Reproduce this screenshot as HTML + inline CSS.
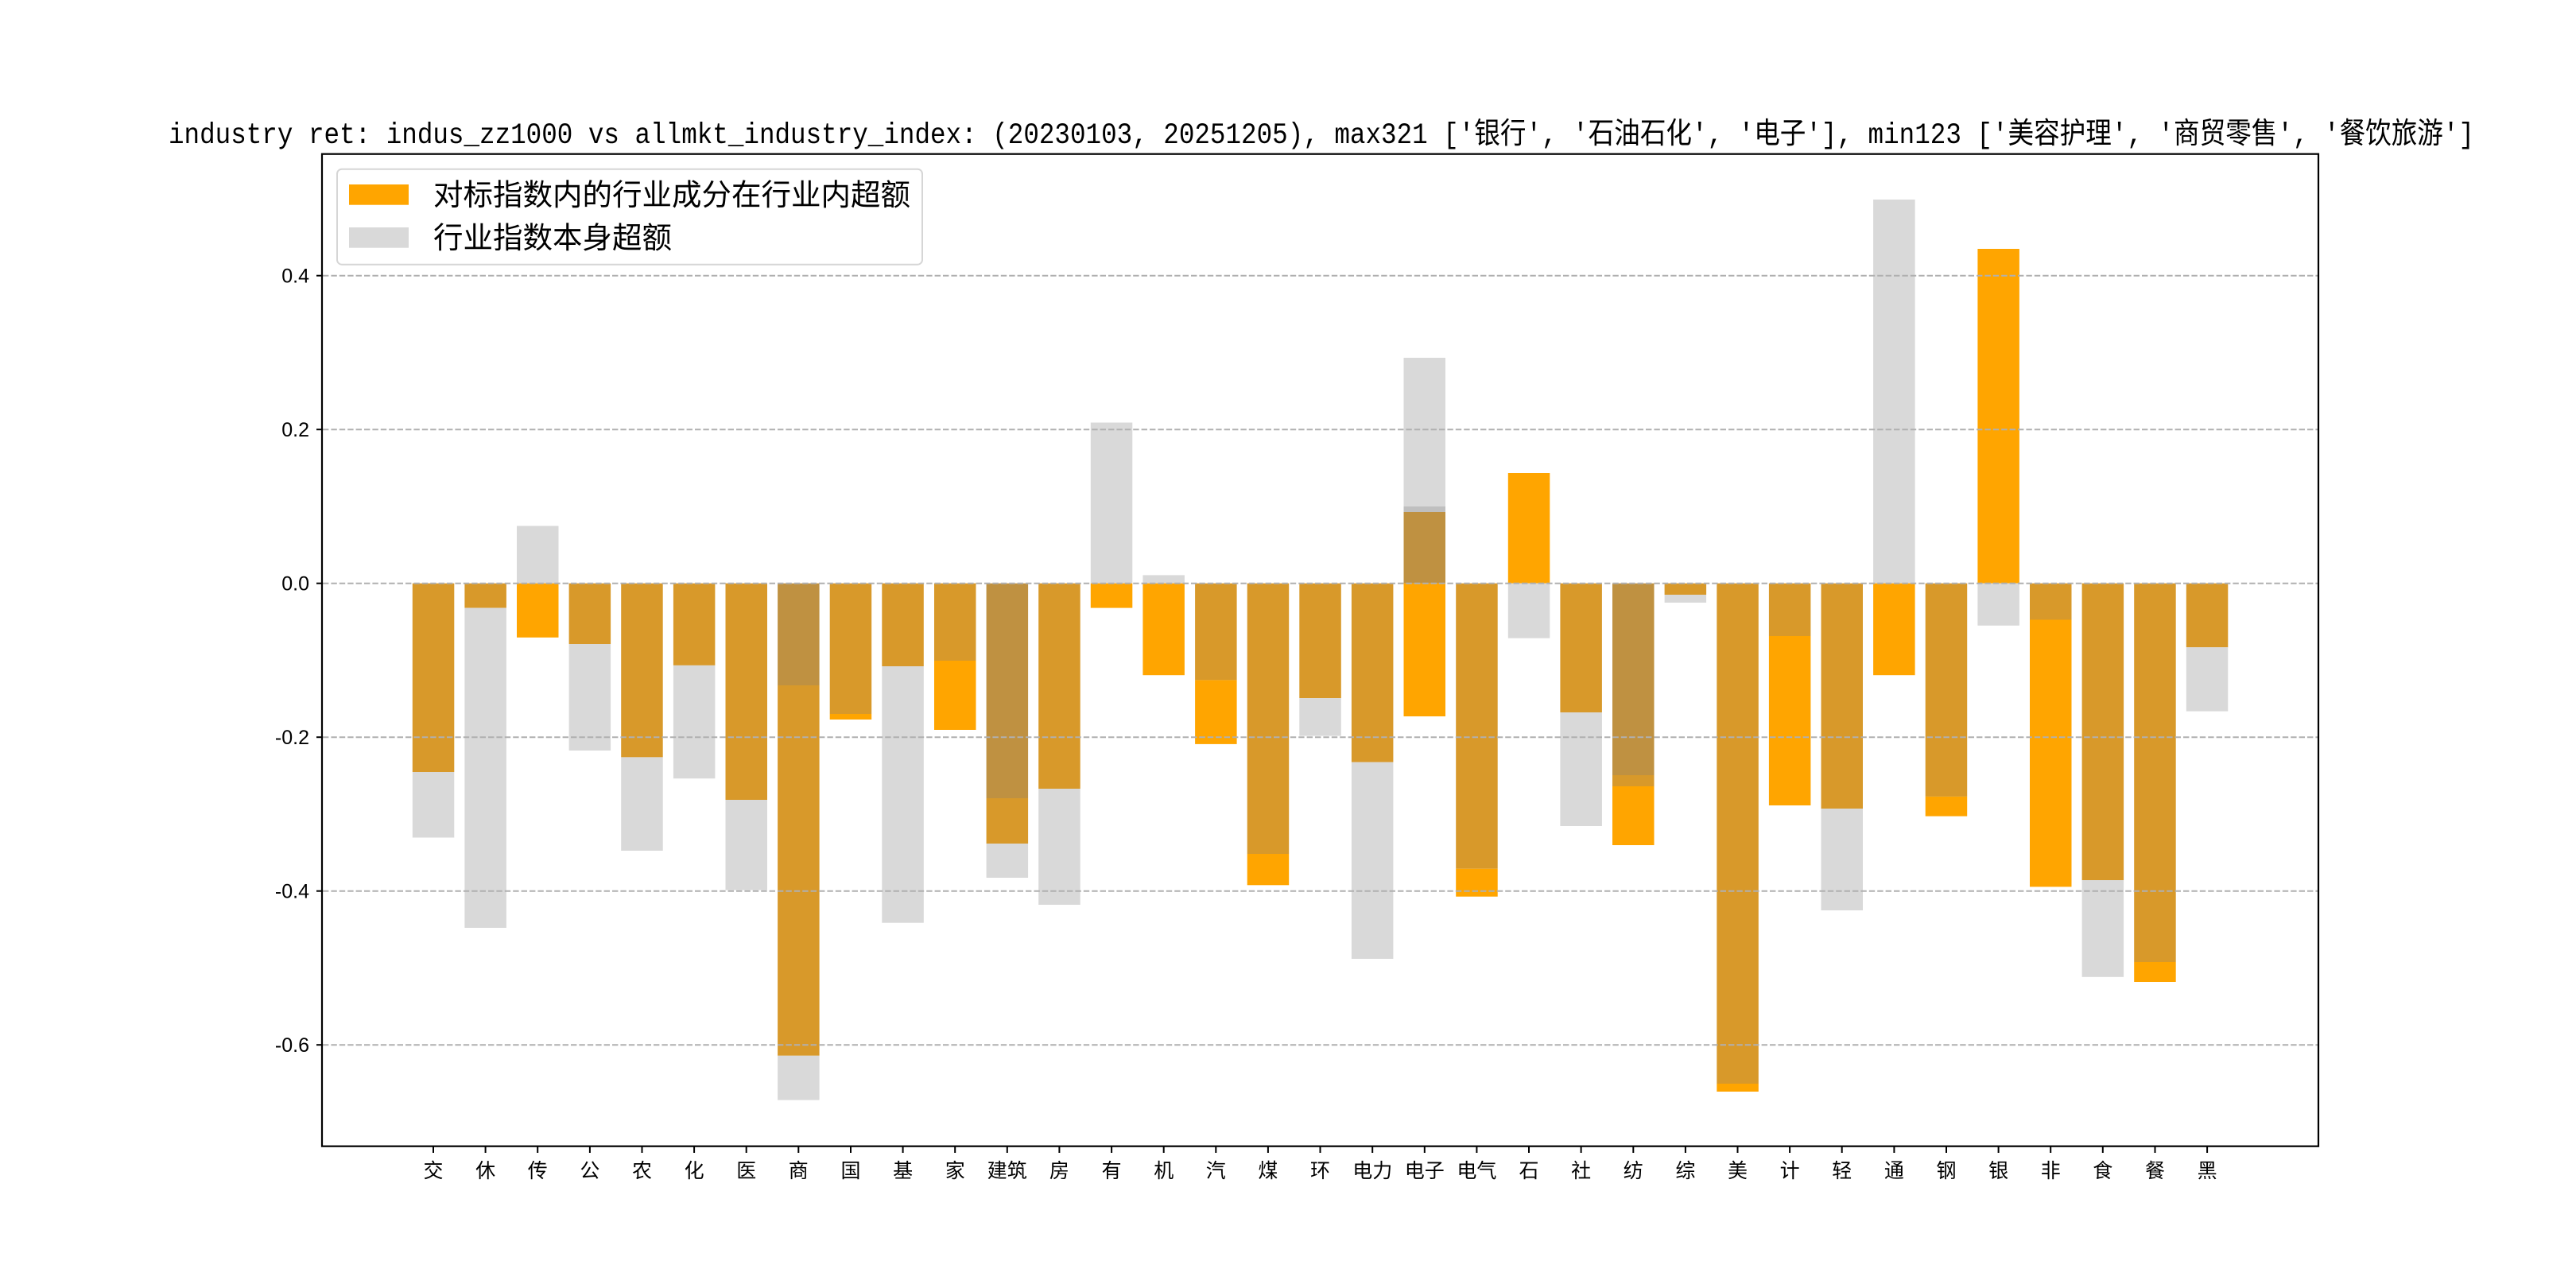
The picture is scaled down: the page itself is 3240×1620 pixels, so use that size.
<!DOCTYPE html>
<html><head><meta charset="utf-8"><style>
html,body{margin:0;padding:0;background:#fff;}
svg{display:block;}
text{font-family:"Liberation Sans","Noto Sans CJK SC","WenQuanYi Zen Hei",sans-serif;fill:#000;}
.mono{font-family:"Liberation Mono","Noto Sans CJK SC","WenQuanYi Zen Hei",monospace;}
</style></head><body>
<svg id="c" xmlns="http://www.w3.org/2000/svg" width="3240" height="1620" viewBox="0 0 3240 1620">
<rect width="3240" height="1620" fill="#fff"/>
<g id="bars"></g>
<g id="grid" stroke="#b0b0b0" stroke-width="2" stroke-dasharray="7.4,3"></g>
<rect x="405" y="193.7" width="2511" height="1248" fill="none" stroke="#000" stroke-width="2.2"/>
<g id="ticks"></g>
<text class="mono" x="1662" y="180" font-size="37" text-anchor="middle" textLength="2900" lengthAdjust="spacingAndGlyphs">industry ret: indus_zz1000 vs allmkt_industry_index: (20230103, 20251205), max321 ['银行', '石油石化', '电子'], min123 ['美容护理', '商贸零售', '餐饮旅游']</text>
<rect x="424" y="212.7" width="736" height="120" rx="6" fill="#fff" fill-opacity="0.8" stroke="#d6d6d6" stroke-width="2"/>
<rect x="439" y="232" width="75" height="25.7" fill="#FFA500"/>
<rect x="439" y="286" width="75" height="25.7" fill="#D9D9D9"/>
<text x="545" y="258" font-size="37.5">对标指数内的行业成分在行业内超额</text>
<text x="545" y="312" font-size="37.5">行业指数本身超额</text>
</svg>
<script>
var C={O:"#FFA500",G:"#D9D9D9",OG:"#D8992A",OGG:"#BF9141",GG:"#BFBFBF"};
var Z=733.7;
var labels=["交","休","传","公","农","化","医","商","国","基","家","建筑","房","有","机","汽","煤","环","电力","电子","电气","石","社","纺","综","美","计","轻","通","钢","银","非","食","餐","黑"];
var S=[
[[Z,971,"OG"],[971,1053.5,"G"]],
[[Z,764.6,"OG"],[764.6,1167,"G"]],
[[661.5,Z,"G"],[Z,801.8,"O"]],
[[Z,810,"OG"],[810,944,"G"]],
[[Z,952.4,"OG"],[952.4,1070,"G"]],
[[Z,836.9,"OG"],[836.9,979.2,"G"]],
[[Z,1006,"OG"],[1006,1119.5,"G"]],
[[Z,862,"OGG"],[862,1327.8,"OG"],[1327.8,1383.6,"G"]],
[[Z,898,"OG"],[898,905,"O"]],
[[Z,838,"OG"],[838,1160.7,"G"]],
[[Z,831,"OG"],[831,918,"O"]],
[[Z,1004,"OGG"],[1004,1061,"OG"],[1061,1104,"G"]],
[[Z,992,"OG"],[992,1138,"G"]],
[[531.5,Z,"G"],[Z,764.6,"O"]],
[[723.4,Z,"G"],[Z,849.2,"O"]],
[[Z,855.4,"OG"],[855.4,935.9,"O"]],
[[Z,1074,"OG"],[1074,1113.3,"O"]],
[[Z,878.1,"OG"],[878.1,925.6,"G"]],
[[Z,958.6,"OG"],[958.6,1206,"G"]],
[[450,637,"G"],[637,644,"GG"],[644,Z,"OGG"],[Z,901,"O"]],
[[Z,1092.7,"OG"],[1092.7,1127.7,"O"]],
[[595,Z,"O"],[Z,802.7,"G"]],
[[Z,896,"OG"],[896,1039,"G"]],
[[Z,975,"OGG"],[975,989,"OG"],[989,1063,"O"]],
[[Z,748,"OG"],[748,758,"G"]],
[[Z,1363,"OG"],[1363,1373,"O"]],
[[Z,800,"OG"],[800,1013,"O"]],
[[Z,1017,"OG"],[1017,1145,"G"]],
[[251,Z,"G"],[Z,849.2,"O"]],
[[Z,1001.9,"OG"],[1001.9,1026.6,"O"]],
[[313,Z,"O"],[Z,786.8,"G"]],
[[Z,779.5,"OG"],[779.5,1115.4,"O"]],
[[Z,1107,"OG"],[1107,1228.8,"G"]],
[[Z,1210,"OG"],[1210,1235,"O"]],
[[Z,814.2,"OG"],[814.2,894.6,"G"]]
];
var ns="http://www.w3.org/2000/svg";
function el(p,t,a,txt){var e=document.createElementNS(ns,t);for(var k in a)e.setAttribute(k,a[k]);if(txt!=null)e.textContent=txt;p.appendChild(e);return e;}
var bars=document.getElementById("bars"),grid=document.getElementById("grid"),ticks=document.getElementById("ticks");
var W=52.5;
for(var i=0;i<S.length;i++){
  var cx=545+i*65.62;
  S[i].forEach(function(s){el(bars,"rect",{x:(cx-W/2).toFixed(1),y:s[0],width:W,height:(s[1]-s[0]).toFixed(1),fill:C[s[2]]});});
  el(ticks,"line",{x1:cx.toFixed(1),x2:cx.toFixed(1),y1:1441.7,y2:1450,stroke:"#000","stroke-width":2});
  el(ticks,"text",{x:cx.toFixed(1),y:1481,"font-size":25,"text-anchor":"middle"},labels[i]);
}
[0.4,0.2,0,-0.2,-0.4,-0.6].forEach(function(v){
  var y=Z-v*967.5;
  el(grid,"line",{x1:406,x2:2915,y1:y.toFixed(1),y2:y.toFixed(1)});
  el(ticks,"line",{x1:398,x2:405,y1:y.toFixed(1),y2:y.toFixed(1),stroke:"#000","stroke-width":2});
  el(ticks,"text",{x:389,y:(y+9).toFixed(1),"font-size":25,"text-anchor":"end"},v.toFixed(1).replace("-0.0","0.0"));
});
</script>
</body></html>
